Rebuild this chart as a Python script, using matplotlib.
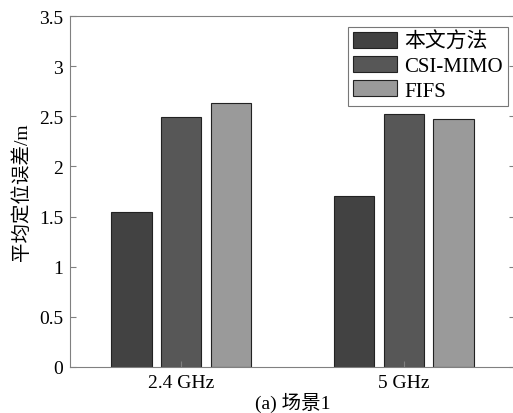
import numpy as np
import matplotlib
matplotlib.use("Agg")
import matplotlib.pyplot as plt

plt.rcParams['font.family'] = ['Liberation Serif', 'Noto Sans CJK SC']

groups = ['2.4 GHz', '5 GHz']
methods = ['本文方法', 'CSI-MIMO', 'FIFS']
errors = {
    '本文方法': [1.55, 1.71],
    'CSI-MIMO': [2.49, 2.52],
    'FIFS': [2.63, 2.47],
}
colors = ['#424242', '#575757', '#9a9a9a']

fig = plt.figure(figsize=(5.13, 4.14), dpi=100)
ax = fig.add_axes([70/513, 46/414, 445/513, 351/414])

x = np.arange(1, len(groups) + 1)
step = 0.2235
width = 0.18
for i, m in enumerate(methods):
    ax.bar(x + (i - 1) * step, errors[m], width, color=colors[i],
           edgecolor='#222222', linewidth=0.8, label=m)

ax.set_xlim(0.5, 2.5)
ax.set_ylim(0, 3.5)
ax.set_xticks(x)
ax.set_xticklabels(groups)
ax.set_yticks(np.arange(0, 3.51, 0.5))
ax.set_yticklabels(['0', '0.5', '1', '1.5', '2', '2.5', '3', '3.5'])
ax.tick_params(direction='in', length=4, labelsize=14, color='#808080',
               right=True, pad=5)
for s in ax.spines.values():
    s.set_color('#808080')

ax.set_ylabel('平均定位误差/m', fontsize=14, labelpad=6)
ax.set_xlabel('(a) 场景1', fontsize=14, labelpad=1)

leg = ax.legend(loc='upper right', bbox_to_anchor=(0.985, 0.97), fontsize=15,
                frameon=True, fancybox=False, edgecolor='#555555',
                handlelength=2.1, handleheight=0.8, labelspacing=0.2,
                borderpad=0.25, handletextpad=0.35, borderaxespad=0)
leg.get_frame().set_linewidth(0.8)

fig.savefig('out.png', dpi=100)
